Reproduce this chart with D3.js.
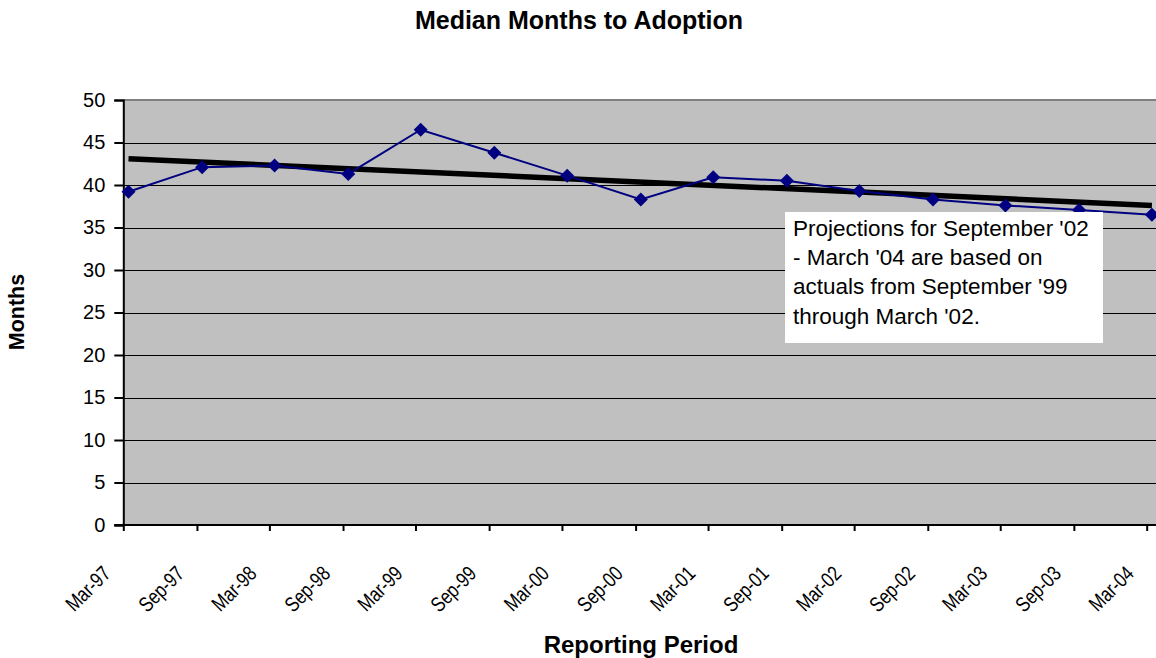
<!DOCTYPE html>
<html>
<head>
<meta charset="utf-8">
<script src="https://cdn.jsdelivr.net/npm/d3@7"></script>
<style>
  html, body { margin: 0; padding: 0; background: #fff; }
  svg { display: block; font-family: "Liberation Sans", Arial, sans-serif; }
</style>
</head>
<body>
<svg id="chart" width="1156" height="658"></svg>
<script>
// ---- data ----
const categories = ["Mar-97","Sep-97","Mar-98","Sep-98","Mar-99","Sep-99","Mar-00","Sep-00",
                    "Mar-01","Sep-01","Mar-02","Sep-02","Mar-03","Sep-03","Mar-04"];
const months = [39.2, 42.1, 42.3, 41.3, 46.5, 43.8, 41.1, 38.3,
                40.9, 40.5, 39.3, 38.3, 37.6, 37.05, 36.5];
const trendValues = [43.1, 37.6];           // trend line at first and last period
const yTicks = [0,5,10,15,20,25,30,35,40,45,50];
const noteLines = ["Projections for September '02",
                   "- March '04 are based on",
                   "actuals from September '99",
                   "through March '02."];
const titleText = "Median Months to Adoption";
const xTitle = "Reporting Period";
const yTitle = "Months";

// ---- layout ----
const svg = d3.select("#chart");
const pLeft = 123.3, pRight = 1160, pTop = 100, pBottom = 525;
const parse = d3.timeParse("%b-%y");
const dates = categories.map(parse);
const firstTick = dates[0], lastTick = dates[dates.length - 1];

const x = d3.scaleTime()
  .domain([firstTick, lastTick])
  .range([pLeft, 1146.7]);
const y = d3.scaleLinear().domain([0, 50]).range([pBottom, pTop]);
const px = d => x(d3.timeDay.offset(d, 13));

// plot background
svg.append("rect").attr("x", pLeft).attr("y", pTop)
  .attr("width", pRight - pLeft).attr("height", pBottom - pTop)
  .attr("fill", "#C0C0C0");

// gridlines
svg.append("g").selectAll("line")
  .data(yTicks.filter(v => v > 0 && v < 50))
  .join("line")
  .attr("x1", pLeft).attr("x2", pRight)
  .attr("y1", d => Math.round(y(d)) + 0.5).attr("y2", d => Math.round(y(d)) + 0.5)
  .attr("stroke", "#000").attr("stroke-width", 1);

// top border
svg.append("line").attr("x1", pLeft).attr("x2", pRight)
  .attr("y1", pTop).attr("y2", pTop)
  .attr("stroke", "#808080").attr("stroke-width", 2);

// y axis
const yAxis = d3.axisLeft(y).tickValues(yTicks).tickSize(9).tickPadding(9);
const gy = svg.append("g").attr("transform", `translate(${pLeft},0)`).call(yAxis);
gy.select(".domain").attr("stroke", "#000").attr("stroke-width", 2);
gy.selectAll(".tick line").attr("stroke", "#000").attr("stroke-width", 2);
gy.selectAll(".tick text").attr("font-size", 20).attr("fill", "#000")
  .attr("font-family", "Liberation Sans, Arial, sans-serif");

// x axis
const xAxis = d3.axisBottom(x).tickValues(dates).tickSize(6).tickFormat(d3.timeFormat("%b-%y"));
const gx = svg.append("g").attr("transform", `translate(0,${pBottom})`).call(xAxis);
gx.select(".domain").attr("stroke", "#000").attr("stroke-width", 2)
  .attr("d", `M${pLeft - 9},0H${pRight}`);
gx.selectAll(".tick line").attr("stroke", "#000").attr("stroke-width", 2);
gx.selectAll(".tick text")
  .attr("font-size", 21).attr("fill", "#000")
  .attr("font-family", "Liberation Sans, Arial, sans-serif")
  .attr("text-anchor", "end")
  .attr("dy", null).attr("y", null)
  .attr("transform", "translate(-12,50) rotate(-45) scale(0.8,1)");

// trend line
svg.append("line")
  .attr("x1", px(dates[0])).attr("y1", y(trendValues[0]))
  .attr("x2", px(dates[dates.length - 1])).attr("y2", y(trendValues[1]))
  .attr("stroke", "#000").attr("stroke-width", 5.5);

// series line
const line = d3.line().x((d, i) => px(dates[i])).y(d => y(d));
svg.append("path").datum(months)
  .attr("d", line).attr("fill", "none")
  .attr("stroke", "#000080").attr("stroke-width", 2);

// markers
const r = 7;
svg.append("g").selectAll("path")
  .data(months)
  .join("path")
  .attr("transform", (d, i) => `translate(${px(dates[i])},${y(d)})`)
  .attr("d", `M0,${-r}L${r},0L0,${r}L${-r},0Z`)
  .attr("fill", "#000080");

// annotation box
svg.append("rect").attr("x", 785).attr("y", 212)
  .attr("width", 318).attr("height", 131).attr("fill", "#fff");
svg.append("g").selectAll("text")
  .data(noteLines)
  .join("text")
  .attr("x", 793).attr("y", (d, i) => 236 + i * 29.2)
  .attr("font-size", 22.5).attr("fill", "#000")
  .text(d => d);

// titles
svg.append("text").attr("x", 579).attr("y", 29)
  .attr("text-anchor", "middle").attr("font-size", 25).attr("font-weight", "bold")
  .text(titleText);
svg.append("text").attr("x", 641).attr("y", 653)
  .attr("text-anchor", "middle").attr("font-size", 24).attr("font-weight", "bold")
  .text(xTitle);
svg.append("text").attr("transform", "translate(24,312) rotate(-90)")
  .attr("text-anchor", "middle").attr("font-size", 21.5).attr("font-weight", "bold")
  .text(yTitle);
</script>
</body>
</html>
